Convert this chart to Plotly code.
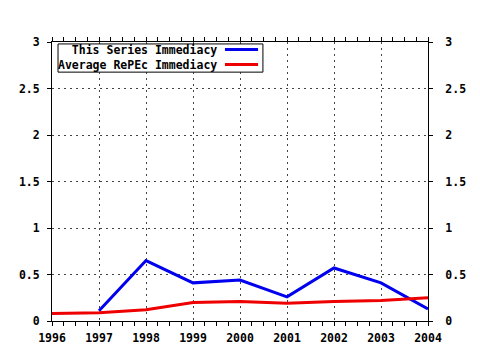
import plotly.graph_objects as go

years = [1996, 1997, 1998, 1999, 2000, 2001, 2002, 2003, 2004]
series_immediacy = [None, 0.11, 0.65, 0.41, 0.44, 0.26, 0.57, 0.41, 0.13]
repec_immediacy = [0.08, 0.09, 0.12, 0.20, 0.21, 0.19, 0.21, 0.22, 0.25]
series_names = ["This Series Immediacy", "Average RePEc Immediacy"]
series_colors = ["#0000ee", "#ee0000"]
y_ticks = [0, 0.5, 1, 1.5, 2, 2.5, 3]
y_tick_labels = ["0", "0.5", "1", "1.5", "2", "2.5", "3"]

FONT = "DejaVu Sans Mono"
tfont = dict(family=FONT, size=11.5, color="black", weight="bold")

fig = go.Figure()
fig.add_trace(go.Scatter(x=years, y=series_immediacy, mode="lines",
                         line=dict(color=series_colors[0], width=3),
                         name=series_names[0], showlegend=False))
fig.add_trace(go.Scatter(x=years, y=repec_immediacy, mode="lines",
                         line=dict(color=series_colors[1], width=3),
                         name=series_names[1], showlegend=False))
# invisible trace to activate right axis
fig.add_trace(go.Scatter(x=[years[0]], y=[0], yaxis="y2", mode="markers",
                         marker=dict(opacity=0), showlegend=False, hoverinfo="skip"))

axis_common = dict(showline=True, linecolor="black", linewidth=1,
                   ticks="outside", tickcolor="black", ticklen=4,
                   zeroline=False, tickfont=tfont, automargin=False)
grid = dict(showgrid=True, gridcolor="#444444", griddash="2px,4px", gridwidth=1)

fig.update_layout(
    width=480, height=350,
    margin=dict(l=52, r=52, t=42, b=29, autoexpand=False),
    paper_bgcolor="white", plot_bgcolor="white",
    xaxis=dict(range=[years[0], years[-1]], tickmode="array", tickvals=years,
               ticktext=[str(y) for y in years], mirror="allticks",
               ticklabelstandoff=2,
               minor=dict(dtick=0.25, ticks="outside", ticklen=2, tickcolor="black", showgrid=False),
               **grid, **axis_common),
    yaxis=dict(range=[0, 3], tickmode="array", tickvals=y_ticks, ticktext=y_tick_labels,
               mirror="ticks", ticklabelstandoff=5, **grid, **axis_common),
    yaxis2=dict(range=[0, 3], tickmode="array", tickvals=y_ticks, ticktext=y_tick_labels,
                overlaying="y", side="right", showgrid=False, ticklabelstandoff=10,
                **axis_common),
)

# legend box (gnuplot style)
fig.add_shape(type="rect", xref="paper", yref="paper", x0=0.016, x1=0.561, y0=0.892, y1=0.993,
              line=dict(color="black", width=1), fillcolor="white")
fig.add_annotation(xref="paper", yref="paper", x=0.4415, y=0.946, text="<br>".join(series_names),
                   showarrow=False, xanchor="right", yanchor="middle", align="right",
                   font=tfont, borderpad=0)
rows_y = [0.973, 0.919]
for color, yy in zip(series_colors, rows_y):
    fig.add_shape(type="line", xref="paper", yref="paper", x0=0.460, x1=0.548, y0=yy, y1=yy,
                  line=dict(color=color, width=3))

fig.write_html("out.html")
